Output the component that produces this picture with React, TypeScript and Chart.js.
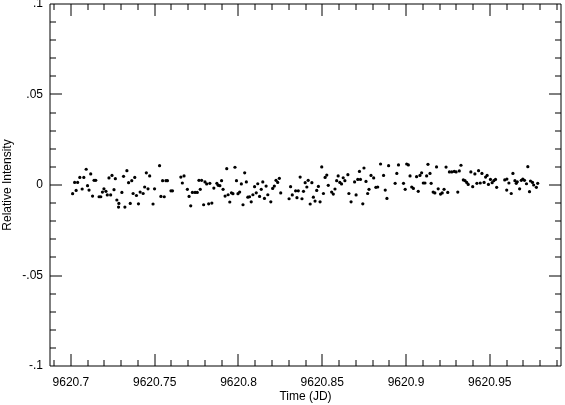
import React, { useEffect, useRef } from "react";
import { Chart, registerables } from "chart.js";

Chart.register(...registerables);

const jdBase = 9620;

// Time offsets (JD - 9620)
const timeOffsets = [
  0.7010, 0.7022, 0.7031, 0.7040, 0.7053, 0.7067, 0.7077, 0.7091, 0.7099, 0.7108,
  0.7118, 0.7129, 0.7138, 0.7148, 0.7168, 0.7178, 0.7188, 0.7197, 0.7209, 0.7217,
  0.7227, 0.7237, 0.7245, 0.7257, 0.7265, 0.7274, 0.7286, 0.7284, 0.7304, 0.7314,
  0.7322, 0.7334, 0.7344, 0.7354, 0.7363, 0.7371, 0.7381, 0.7391, 0.7403, 0.7413,
  0.7431, 0.7440, 0.7450, 0.7460, 0.7470, 0.7490, 0.7499, 0.7529, 0.7537, 0.7547,
  0.7557, 0.7567, 0.7576, 0.7597, 0.7606, 0.7656, 0.7665, 0.7675, 0.7695, 0.7705,
  0.7715, 0.7725, 0.7741, 0.7754, 0.7764, 0.7772, 0.7780, 0.7792, 0.7800, 0.7810,
  0.7822, 0.7829, 0.7841, 0.7853, 0.7871, 0.7879, 0.7889, 0.7899, 0.7908, 0.7920,
  0.7930, 0.7938, 0.7948, 0.7958, 0.7967, 0.7979, 0.7988, 0.7997, 0.8007, 0.8017,
  0.8027, 0.8037, 0.8047, 0.8056, 0.8066, 0.8076, 0.8086, 0.8096, 0.8106, 0.8115,
  0.8126, 0.8136, 0.8145, 0.8155, 0.8165, 0.8175, 0.8193, 0.8204, 0.8214, 0.8224,
  0.8234, 0.8244, 0.8252, 0.8302, 0.8311, 0.8321, 0.8341, 0.8349, 0.8357, 0.8368,
  0.8379, 0.8388, 0.8398, 0.8408, 0.8416, 0.8428, 0.8438, 0.8447, 0.8457, 0.8467,
  0.8477, 0.8487, 0.8497, 0.8507, 0.8517, 0.8527, 0.8536, 0.8556, 0.8566, 0.8576,
  0.8586, 0.8595, 0.8605, 0.8615, 0.8625, 0.8635, 0.8653, 0.8659, 0.8672, 0.8693,
  0.8702, 0.8712, 0.8722, 0.8728, 0.8742, 0.8749, 0.8761, 0.8771, 0.8779, 0.8791,
  0.8807, 0.8820, 0.8831, 0.8848, 0.8866, 0.8876, 0.8886, 0.8896, 0.8935, 0.8945,
  0.8955, 0.8985, 0.8995, 0.9004, 0.9014, 0.9024, 0.9034, 0.9044, 0.9063, 0.9073,
  0.9083, 0.9093, 0.9103, 0.9113, 0.9123, 0.9131, 0.9143, 0.9150, 0.9162, 0.9172,
  0.9182, 0.9192, 0.9206, 0.9216, 0.9227, 0.9239, 0.9249, 0.9259, 0.9273, 0.9288,
  0.9299, 0.9309, 0.9318, 0.9328, 0.9342, 0.9352, 0.9362, 0.9371, 0.9387, 0.9398,
  0.9411, 0.9423, 0.9433, 0.9443, 0.9453, 0.9466, 0.9475, 0.9484, 0.9492, 0.9504,
  0.9514, 0.9524, 0.9534, 0.9541, 0.9589, 0.9602, 0.9601, 0.9614, 0.9628, 0.9638,
  0.9650, 0.9658, 0.9664, 0.9678, 0.9688, 0.9697, 0.9707, 0.9719, 0.9727, 0.9737,
  0.9743, 0.9755, 0.9762, 0.9778, 0.9786,
];

const intensities = [
  -0.0048, 0.0014, -0.0030, 0.0014, 0.0042, -0.0022, 0.0042, 0.0087, -0.0004, -0.0028,
  0.0061, -0.0061, 0.0026, 0.0026, -0.0065, -0.0065, -0.0039, -0.0021, -0.0035, -0.0055,
  0.0039, -0.0055, 0.0053, -0.0026, 0.0035, -0.0083, -0.0102, -0.0122, -0.0041, 0.0048,
  -0.0122, 0.0079, 0.0013, -0.0102, 0.0024, -0.0047, 0.0042, -0.0058, -0.0104, -0.0039,
  -0.0047, -0.0011, 0.0067, -0.0021, 0.0050, -0.0105, -0.0021, 0.0107, -0.0063, 0.0024,
  -0.0065, 0.0024, 0.0024, -0.0032, -0.0032, 0.0044, 0.0011, 0.0050, -0.0024, -0.0063,
  -0.0115, -0.0041, -0.0041, -0.0041, 0.0026, -0.0024, 0.0026, -0.0109, 0.0017, 0.0006,
  -0.0104, 0.0009, -0.0100, -0.0017, 0.0009, -0.0002, -0.0004, 0.0024, -0.0024, -0.0061,
  0.0090, -0.0054, -0.0094, -0.0043, -0.0048, 0.0098, 0.0024, -0.0048, -0.0039, 0.0006,
  -0.0109, 0.0067, 0.0017, -0.0067, -0.0065, -0.0093, -0.0054, -0.0009, -0.0043, 0.0007,
  -0.0063, -0.0024, 0.0017, -0.0074, -0.0006, -0.0054, -0.0093, -0.0019, -0.0006, 0.0026,
  0.0014, 0.0037, -0.0044, -0.0076, -0.0009, -0.0055, -0.0032, -0.0070, -0.0032, 0.0044,
  -0.0076, -0.0035, 0.0013, -0.0011, 0.0026, -0.0105, 0.0013, -0.0067, -0.0089, -0.0030,
  -0.0008, -0.0093, 0.0100, -0.0047, 0.0042, 0.0055, -0.0002, -0.0039, -0.0050, -0.0022,
  0.0024, 0.0050, 0.0014, 0.0006, 0.0040, 0.0024, 0.0057, -0.0047, -0.0093, 0.0017,
  -0.0055, 0.0031, 0.0075, 0.0031, -0.0104, 0.0094, 0.0020, -0.0047, -0.0024, 0.0053,
  0.0039, -0.0013, -0.0011, 0.0116, 0.0053, -0.0028, -0.0074, 0.0107, 0.0009, 0.0064,
  0.0111, 0.0009, -0.0024, 0.0116, 0.0111, 0.0050, -0.0011, -0.0019, 0.0046, -0.0035,
  0.0053, 0.0067, 0.0011, 0.0011, 0.0050, 0.0114, 0.0064, 0.0009, -0.0039, -0.0044,
  0.0100, -0.0021, -0.0050, -0.0044, -0.0024, 0.0099, -0.0041, 0.0072, 0.0072, 0.0075,
  0.0072, -0.0039, 0.0078, 0.0109, 0.0028, 0.0024, 0.0014, 0.0003, 0.0072, -0.0009,
  0.0061, 0.0009, 0.0079, 0.0011, 0.0064, 0.0014, 0.0044, 0.0053, 0.0003, 0.0031,
  0.0013, 0.0024, 0.0031, -0.0013, 0.0028, 0.0033, -0.0028, 0.0011, -0.0047, 0.0064,
  0.0024, 0.0009, 0.0018, -0.0021, 0.0026, 0.0033, 0.0026, 0.0007, 0.0101, -0.0037,
  0.0022, 0.0014, 0.0000, -0.0013, 0.0009,
];

const xTickValues = [9620.7, 9620.75, 9620.8, 9620.85, 9620.9, 9620.95];
const xTickLabels = ["9620.7", "9620.75", "9620.8", "9620.85", "9620.9", "9620.95"];
const yTickValues = [-0.1, -0.05, 0, 0.05, 0.1];
const yTickLabels = ["-.1", "-.05", "0", ".05", ".1"];

const xMin = 9620.6875;
const xMax = 9620.9925;
const yMin = -0.1;
const yMax = 0.1;

const FONT = { family: "'Liberation Sans', Arial, Helvetica, sans-serif", size: 12 };

const labelFor = (values: number[], labels: string[], v: number) => {
  let best = 0;
  for (let i = 1; i < values.length; i++) {
    if (Math.abs(values[i] - v) < Math.abs(values[best] - v)) best = i;
  }
  return labels[best];
};

const framePlugin = {
  id: "frameTicks",
  afterDraw(chart: any) {
    const { ctx, chartArea: a, scales } = chart;
    const xs = scales.x;
    const ys = scales.y;
    ctx.save();
    ctx.strokeStyle = "#000";
    ctx.lineWidth = 1;
    ctx.beginPath();
    ctx.rect(a.left, a.top, a.right - a.left, a.bottom - a.top);
    // x ticks (minor every 0.01, major every 0.05)
    for (let i = 68; i <= 100; i++) {
      const v = jdBase + i / 100;
      const px = Math.round(xs.getPixelForValue(v));
      if (px <= a.left || px >= a.right) continue;
      const len = i % 5 === 0 ? 12 : 6;
      ctx.moveTo(px, a.bottom);
      ctx.lineTo(px, a.bottom - len);
      ctx.moveTo(px, a.top);
      ctx.lineTo(px, a.top + len);
    }
    // y ticks
    for (let i = -10; i <= 10; i++) {
      const v = i / 100;
      const py = Math.round(ys.getPixelForValue(v));
      if (py <= a.top || py >= a.bottom) continue;
      const len = i % 5 === 0 ? 12 : 6;
      ctx.moveTo(a.left, py);
      ctx.lineTo(a.left + len, py);
      ctx.moveTo(a.right, py);
      ctx.lineTo(a.right - len, py);
    }
    ctx.stroke();
    ctx.restore();
  },
};

export default function App() {
  const canvasRef = useRef<HTMLCanvasElement | null>(null);

  useEffect(() => {
    document.body.style.margin = "0";
    const canvas = canvasRef.current;
    if (!canvas) return;
    const data = timeOffsets.map((t, i) => ({ x: jdBase + t, y: intensities[i] }));
    const chart = new Chart(canvas, {
      type: "scatter",
      data: {
        datasets: [
          {
            data,
            pointRadius: 1.6,
            pointStyle: "circle",
            backgroundColor: "#000",
            borderWidth: 0,
          },
        ],
      },
      options: {
        animation: false,
        responsive: false,
        devicePixelRatio: 1,
        layout: { padding: { top: 4, right: 1, left: 0, bottom: 0 } },
        plugins: { legend: { display: false }, tooltip: { enabled: false } },
        scales: {
          x: {
            type: "linear",
            min: xMin,
            max: xMax,
            grid: { display: false, drawTicks: false },
            border: { display: false },
            afterBuildTicks: (s: any) => {
              s.ticks = xTickValues.map((v) => ({ value: v }));
            },
            afterFit: (s: any) => {
              s.height = 39;
              s.paddingLeft = 0;
              s.paddingRight = 0;
            },
            ticks: {
              autoSkip: false,
              maxRotation: 0,
              padding: 9,
              color: "#000",
              font: FONT,
              callback: (v: any) => labelFor(xTickValues, xTickLabels, Number(v)),
            },
            title: {
              display: true,
              text: "Time (JD)",
              color: "#000",
              font: FONT,
              padding: { top: 0, bottom: 1 },
            },
          },
          y: {
            type: "linear",
            min: yMin,
            max: yMax,
            grid: { display: false, drawTicks: false },
            border: { display: false },
            afterBuildTicks: (s: any) => {
              s.ticks = yTickValues.map((v) => ({ value: v }));
            },
            afterFit: (s: any) => {
              s.width = 50;
              s.paddingTop = 0;
              s.paddingBottom = 0;
            },
            ticks: {
              autoSkip: false,
              padding: 7,
              color: "#000",
              font: FONT,
              callback: (v: any) => labelFor(yTickValues, yTickLabels, Number(v)),
            },
            title: {
              display: true,
              text: "Relative Intensity",
              color: "#000",
              font: FONT,
              padding: { top: 0, bottom: 0 },
            },
          },
        },
      },
      plugins: [framePlugin],
    });
    return () => chart.destroy();
  }, []);

  return (
    <div style={{ position: "fixed", left: 0, top: 0, width: 565, height: 405, background: "#fff" }}>
      <canvas ref={canvasRef} width={565} height={405} style={{ display: "block" }} />
    </div>
  );
}
